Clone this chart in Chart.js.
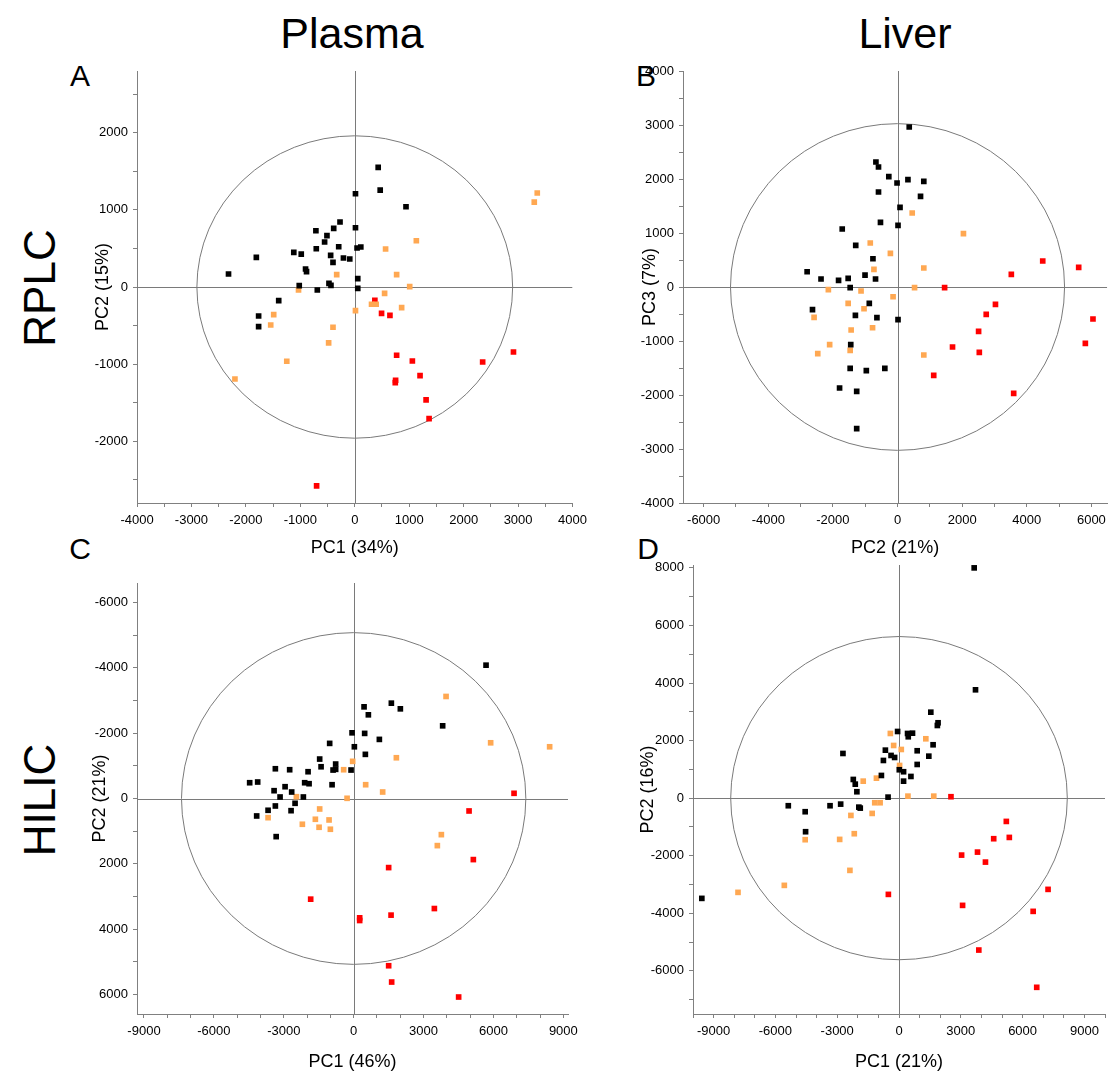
<!DOCTYPE html>
<html><head><meta charset="utf-8">
<script src="https://cdn.jsdelivr.net/npm/chart.js@4.4.1/dist/chart.umd.min.js"></script>
<style>
html,body{margin:0;padding:0;background:#fff;}
body{width:1112px;height:1078px;position:relative;overflow:hidden;font-family:"Liberation Sans",Arial,sans-serif;}
.lbl{position:absolute;color:#000;white-space:nowrap;line-height:1;transform:translate(-50%,-50%);}
.rot{transform:translate(-50%,-50%) rotate(-90deg);}
canvas{position:absolute;}
</style></head><body>
<div class="lbl" style="left:352px;top:33px;font-size:43px;">Plasma</div>
<div class="lbl" style="left:905px;top:33px;font-size:43px;">Liver</div>
<div class="lbl rot" style="left:40px;top:288px;font-size:44px;">RPLC</div>
<div class="lbl rot" style="left:40px;top:800px;font-size:44px;">HILIC</div>
<div class="lbl" style="left:80px;top:76px;font-size:30px;">A</div>
<div class="lbl" style="left:646px;top:76px;font-size:30px;">B</div>
<div class="lbl" style="left:80px;top:549px;font-size:30px;">C</div>
<div class="lbl" style="left:648px;top:549px;font-size:30px;">D</div>
<script>
// ---------- DATA ----------
// Panel A: Plasma RPLC, PC1 vs PC2
const aBlack = [[-2319,168],[-1808,385],[-1120,449],[-983,427],[-904,233],[-886,199],[-1020,17],[-707,496],[-714,729],[-554,583],[-511,665],[-387,760],[-271,842],[-295,522],[-443,410],[-400,320],[-208,376],[-92,363],[-688,-39],[-474,48],[-437,22],[-1397,-177],[-1766,-376],[-1766,-514],[13,1209],[13,768],[42,505],[111,518],[55,108],[55,-17],[430,1550],[467,1256],[941,1040]];
const aOrange = [[-332,160],[-1033,-39],[-1489,-358],[-1544,-492],[13,-307],[-400,-522],[-480,-725],[-1249,-963],[-2201,-1192],[3352,1218],[3297,1101],[1131,600],[566,492],[769,160],[1009,4],[548,-82],[308,-224],[393,-224],[861,-268]];
const aRed = [[369,-172],[492,-341],[646,-367],[769,-885],[1058,-959],[2349,-972],[2915,-842],[1199,-1149],[750,-1209],[744,-1239],[1310,-1464],[1365,-1706],[-701,-2578]];
// Panel B: Liver RPLC, PC2 vs PC3
const bBlack = [[-669,2315],[-589,2222],[-270,2043],[-15,1926],[322,1987],[-589,1759],[77,1474],[-528,1196],[15,1141],[-1712,1074],[-1294,770],[-761,524],[-2798,283],[-2368,148],[-1825,123],[-1528,160],[-1006,221],[-681,148],[-1466,-13],[-874,-303],[-2632,-420],[-1304,-525],[-638,-568],[15,-605],[-1448,-1068],[362,2963],[813,1956],[712,1678],[-1466,-1507],[-966,-1550],[-393,-1507],[-1794,-1870],[-1264,-1933],[-1264,-2624]];
const bOrange = [[-844,814],[-221,623],[-730,326],[-2141,-50],[-1129,-74],[-1528,-303],[-1037,-402],[-138,-180],[-2583,-562],[-1436,-797],[-773,-754],[-2101,-1068],[-1466,-1173],[-2469,-1235],[454,1370],[2040,987],[813,352],[527,-13],[813,-1259]];
const bRed = [[4494,481],[5607,363],[3522,233],[1457,-13],[3031,-322],[2745,-507],[6049,-593],[2509,-822],[5813,-1044],[1702,-1111],[2531,-1211],[1120,-1637],[3595,-1970]];
// Panel C: Plasma HILIC, PC1 vs PC2 (y axis reversed)
const cBlack = [[446,-2807],[631,-2563],[-69,-2012],[472,-1994],[30,-1584],[502,-1352],[-1030,-1688],[-1459,-1208],[-773,-1055],[-1399,-972],[-884,-872],[-773,-893],[-112,-872],[-3361,-911],[-2747,-881],[-1957,-820],[-4464,-483],[-4120,-505],[-2103,-483],[-1914,-453],[-927,-422],[-2944,-361],[-3416,-239],[-2661,-199],[-3159,-46],[-2159,-46],[-2515,147],[-3361,229],[-3674,361],[-2687,373],[-4163,535],[-3326,1168],[5682,-4083],[1618,-2920],[2004,-2746],[3820,-2226],[1103,-1810]];
const cOrange = [[-43,-1138],[-429,-881],[515,-422],[-2459,-55],[-283,-6],[-1459,321],[-3674,587],[-1644,636],[-1056,657],[-2202,789],[-1485,881],[-1000,942],[3966,-3125],[5880,-1706],[8412,-1584],[1833,-1248],[1245,-199],[3764,1107],[3592,1443]];
const cRed = [[6884,-159],[4953,382],[5137,1871],[1502,2116],[-1845,3083],[3464,3370],[1605,3572],[258,3654],[258,3737],[1502,5122],[1631,5621],[4506,6080]];
// Panel D: Liver HILIC, PC1 vs PC2
const dBlack = [[-68,2316],[415,2247],[449,2132],[656,2257],[-2721,1552],[-661,1667],[-757,1309],[-386,1483],[-212,1413],[883,1646],[883,1170],[-854,788],[14,986],[222,917],[579,753],[222,590],[-2219,649],[-2123,486],[-2045,222],[-531,35],[-5374,-264],[-4554,-472],[-3348,-264],[-2832,-208],[-1949,-313],[-1881,-347],[-4535,-1167],[3714,3764],[1544,2986],[1896,2618],[1862,2524],[1655,1854],[1447,1458],[-9571,-3483],[3650,8000]];
const dOrange = [[-420,2247],[-260,1830],[111,1691],[29,1135],[-1095,694],[-1737,590],[434,69],[-1177,-160],[-917,-160],[-1302,-531],[-2335,-601],[-2171,-1236],[-2880,-1434],[-4554,-1444],[-2383,-2510],[-5567,-3031],[1302,2062],[1688,69],[-7815,-3274]];
const dRed = [[2523,49],[5210,-809],[5355,-1365],[4597,-1410],[3811,-1875],[3039,-1979],[4197,-2222],[-516,-3344],[7236,-3170],[3087,-3726],[6512,-3934],[3874,-5278],[6686,-6573]];

// Axis titles
const axisTitles = {A:['PC1 (34%)','PC2 (15%)'], B:['PC2 (21%)','PC3 (7%)'], C:['PC1 (46%)','PC2 (21%)'], D:['PC1 (21%)','PC2 (16%)']};
// Tick values (marks) and labelled ticks
const aTicksX = [-4000,-3500,-3000,-2500,-2000,-1500,-1000,-500,0,500,1000,1500,2000,2500,3000,3500,4000];
const aLabelsX = [-4000,-3000,-2000,-1000,0,1000,2000,3000,4000];
const aTicksY = [-2500,-2000,-1500,-1000,-500,0,500,1000,1500,2000,2500];
const aLabelsY = [-2000,-1000,0,1000,2000];
const bTicksX = [-6000,-5000,-4000,-3000,-2000,-1000,0,1000,2000,3000,4000,5000,6000];
const bLabelsX = [-6000,-4000,-2000,0,2000,4000,6000];
const bTicksY = [-4000,-3500,-3000,-2500,-2000,-1500,-1000,-500,0,500,1000,1500,2000,2500,3000,3500,4000];
const bLabelsY = [-4000,-3000,-2000,-1000,0,1000,2000,3000,4000];
const cTicksX = [-9000,-8000,-7000,-6000,-5000,-4000,-3000,-2000,-1000,0,1000,2000,3000,4000,5000,6000,7000,8000,9000];
const cLabelsX = [-9000,-6000,-3000,0,3000,6000,9000];
const cTicksY = [-6000,-5000,-4000,-3000,-2000,-1000,0,1000,2000,3000,4000,5000,6000];
const cLabelsY = [-6000,-4000,-2000,0,2000,4000,6000];
const dTicksX = [-10000,-9000,-8000,-7000,-6000,-5000,-4000,-3000,-2000,-1000,0,1000,2000,3000,4000,5000,6000,7000,8000,9000,10000];
const dLabelsX = [-9000,-6000,-3000,0,3000,6000,9000];
const dTicksY = [-7000,-6000,-5000,-4000,-3000,-2000,-1000,0,1000,2000,3000,4000,5000,6000,7000,8000];
const dLabelsY = [-6000,-4000,-2000,0,2000,4000,6000,8000];
// Hotelling T2 ellipse radii [x, y]
const aEllipse = [2900,1960];
const bEllipse = [5170,3025];
const cEllipse = [7390,5080];
const dEllipse = [8170,5615];

// ---------- DRAWING ----------
const FONT = '"Liberation Sans", Arial, sans-serif';
const COLORS = {black:'#000000', orange:'#FFA852', red:'#FF0000'};

const refPlugin = {
  id:'ref',
  beforeDatasetsDraw(chart, args, opts){
    const {ctx, chartArea:ca, scales:{x,y}} = chart;
    const e = chart.options.plugins.ref.ellipse;
    ctx.save();
    ctx.beginPath(); ctx.rect(ca.left, ca.top, ca.right-ca.left, ca.bottom-ca.top); ctx.clip();
    ctx.strokeStyle = '#7a7a7a'; ctx.lineWidth = 1;
    const x0 = x.getPixelForValue(0), y0 = y.getPixelForValue(0);
    ctx.beginPath();
    ctx.moveTo(ca.left, Math.round(y0)+0.5); ctx.lineTo(ca.right, Math.round(y0)+0.5);
    ctx.moveTo(Math.round(x0)+0.5, ca.top); ctx.lineTo(Math.round(x0)+0.5, ca.bottom);
    ctx.stroke();
    const rx = Math.abs(x.getPixelForValue(e[0]) - x0), ry = Math.abs(y.getPixelForValue(e[1]) - y0);
    ctx.beginPath(); ctx.ellipse(x0, y0, rx, ry, 0, 0, Math.PI*2); ctx.stroke();
    ctx.restore();
  }
};

function pts(arr){ return arr.map(p => ({x:p[0], y:p[1]})); }

function makePanel(p){
  const lh = 18*1.2;
  const cl = p.ytitleX - 12, cr = p.area.r + p.padR, ct = p.area.t - 14, cb = p.xtitleY + 12;
  const c = document.createElement('canvas');
  c.width = cr-cl; c.height = cb-ct;
  c.style.left = cl+'px'; c.style.top = ct+'px';
  c.style.width = (cr-cl)+'px'; c.style.height = (cb-ct)+'px';
  document.body.appendChild(c);
  const tickFont = {family:FONT, size:13};
  const titleFont = {family:FONT, size:18};
  const ds = (arr, col) => ({data:pts(arr), backgroundColor:col, borderColor:col, borderWidth:0, pointStyle:'rect', pointRadius:4, pointHoverRadius:4});
  new Chart(c, {
    type:'scatter',
    data:{datasets:[ds(p.black, COLORS.black), ds(p.orange, COLORS.orange), ds(p.red, COLORS.red)]},
    options:{
      responsive:false, animation:false, devicePixelRatio:1,
      layout:{padding:{top:14, right:p.padR, left:0, bottom:0}},
      plugins:{legend:{display:false}, tooltip:{enabled:false}, ref:{ellipse:p.ellipse}},
      scales:{
        x:{type:'linear', position:'bottom', min:p.xr[0], max:p.xr[1],
          afterBuildTicks: ax => { ax.ticks = p.ticksX.map(v => ({value:v})); },
          afterFit: ax => { ax.height = cb - p.area.b - ct + ct; ax.height = (cb - ct) - (p.area.b - ct); },
          ticks:{autoSkip:false, maxRotation:0, minRotation:0, padding:6, color:'#000', font:tickFont,
            callback: v => p.labelsX.includes(v) ? String(v) : ''},
          grid:{drawOnChartArea:false, drawTicks:true, tickLength:4, color:'#808080'},
          border:{display:true, color:'#808080', width:1},
          title:{display:true, text:p.titles[0], color:'#000', font:titleFont, padding:{top:0, bottom:12 - lh/2}}
        },
        y:{type:'linear', position:'left', min:p.yr[0], max:p.yr[1], reverse:!!p.reverse,
          afterBuildTicks: ax => { ax.ticks = p.ticksY.map(v => ({value:v})); },
          afterFit: ax => { ax.width = p.area.l - cl; },
          ticks:{autoSkip:false, padding:5, color:'#000', font:tickFont,
            callback: v => p.labelsY.includes(v) ? String(v) : ''},
          grid:{drawOnChartArea:false, drawTicks:true, tickLength:4, color:'#808080'},
          border:{display:true, color:'#808080', width:1},
          title:{display:true, text:p.titles[1], color:'#000', font:titleFont, padding:{top:12 - lh/2, bottom:0}}
        }
      }
    },
    plugins:[refPlugin]
  });
}

makePanel({area:{l:137,r:573,t:71,b:503}, padR:20, ytitleX:103, xtitleY:548, xr:[-4000,4000], yr:[-2800,2800],
  ticksX:aTicksX, labelsX:aLabelsX, ticksY:aTicksY, labelsY:aLabelsY, titles:axisTitles.A, ellipse:aEllipse,
  black:aBlack, orange:aOrange, red:aRed});
makePanel({area:{l:683,r:1111,t:71,b:503}, padR:1, ytitleX:650, xtitleY:548, xr:[-6640,6490], yr:[-4000,4000],
  ticksX:bTicksX, labelsX:bLabelsX, ticksY:bTicksY, labelsY:bLabelsY, titles:axisTitles.B, ellipse:bEllipse,
  black:bBlack, orange:bOrange, red:bRed});
makePanel({area:{l:137,r:568,t:583,b:1014}, padR:20, ytitleX:100, xtitleY:1062, xr:[-9300,9200], yr:[-6600,6600], reverse:true,
  ticksX:cTicksX, labelsX:cLabelsX, ticksY:cTicksY, labelsY:cLabelsY, titles:axisTitles.C, ellipse:cEllipse,
  black:cBlack, orange:cOrange, red:cRed});
makePanel({area:{l:693,r:1108,t:565,b:1014}, padR:3, ytitleX:648, xtitleY:1062, xr:[-10000,10000], yr:[-7500,8100],
  ticksX:dTicksX, labelsX:dLabelsX, ticksY:dTicksY, labelsY:dLabelsY, titles:axisTitles.D, ellipse:dEllipse,
  black:dBlack, orange:dOrange, red:dRed});
</script>
</body></html>
